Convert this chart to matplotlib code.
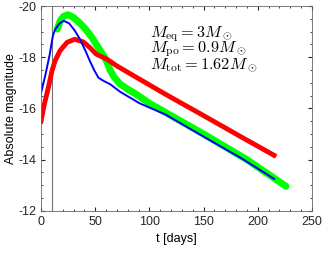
import matplotlib
matplotlib.use("Agg")
import matplotlib.pyplot as plt
from matplotlib.ticker import MultipleLocator

plt.rcParams['font.family'] = ['Liberation Sans', 'DejaVu Sans']
plt.rcParams['mathtext.fontset'] = 'cm'
plt.rcParams['axes.unicode_minus'] = False

# red: equatorial-only model
t_red = [0, 3, 7, 10, 13, 17.5, 24, 31, 39, 45, 51, 61, 70, 91, 115, 150, 185, 215]
m_red = [-15.5, -16.15, -16.85, -17.45, -17.86, -18.25, -18.58, -18.7, -18.6, -18.38, -18.12, -17.92, -17.66, -17.14, -16.55, -15.72, -14.88, -14.17]

# blue: combined model
t_blue = [0, 4, 8, 11, 13, 17, 21, 26, 31, 36, 41, 45, 49, 53, 58, 64, 73, 91, 115, 150, 185, 215]
m_blue = [-16.6, -17.3, -18.1, -18.85, -19.08, -19.32, -19.42, -19.32, -19.05, -18.7, -18.25, -17.86, -17.5, -17.2, -17.07, -16.94, -16.65, -16.2, -15.76, -14.9, -14.05, -13.25]

# green: observed
t_green = [15, 18, 21, 25, 30, 36, 41, 47, 54, 58, 61, 64, 67, 73, 80, 88, 100, 115, 150, 190, 226]
m_green = [-19.1, -19.45, -19.6, -19.66, -19.55, -19.33, -19.1, -18.77, -18.3, -18.05, -17.8, -17.47, -17.25, -16.95, -16.75, -16.55, -16.2, -15.84, -15.0, -14.0, -12.96]

fig = plt.figure(figsize=(3.32, 2.61), dpi=100)
ax = fig.add_axes([0.1235, 0.192, 0.8163, 0.785])

ax.axvline(10, color='0.45', lw=0.8)
ax.plot(t_green, m_green, color=(0, 1, 0), lw=5, solid_capstyle='round')
ax.plot(t_red, m_red, color='red', lw=3.5)
ax.plot(t_blue, m_blue, color='blue', lw=1.4)

ax.set_xlim(0, 250)
ax.set_ylim(-12, -20)
ax.set_xticks([0, 50, 100, 150, 200, 250])
ax.set_yticks([-20, -18, -16, -14, -12])
ax.xaxis.set_minor_locator(MultipleLocator(10))
ax.yaxis.set_minor_locator(MultipleLocator(0.5))
ax.tick_params(which='both', direction='in', top=True, right=True, labelsize=9, colors='0.15')
ax.tick_params(which='major', length=3)
ax.tick_params(which='minor', length=1.5)
for s in ax.spines.values():
    s.set_color('0.4')
    s.set_linewidth(0.6)

ax.set_xlabel('t [days]', fontsize=9)
ax.set_ylabel('Absolute magnitude', fontsize=9, labelpad=1)

labels = [r'$M_{\rm eq} = 3M_\odot$', r'$M_{\rm po} = 0.9M_\odot$', r'$M_{\rm tot} = 1.62M_\odot$']
for lbl, yy in zip(labels, [0.847, 0.773, 0.695]):
    ax.text(0.402, yy, lbl, transform=ax.transAxes, fontsize=11.8, va='baseline')

fig.savefig('out.png', dpi=100)
